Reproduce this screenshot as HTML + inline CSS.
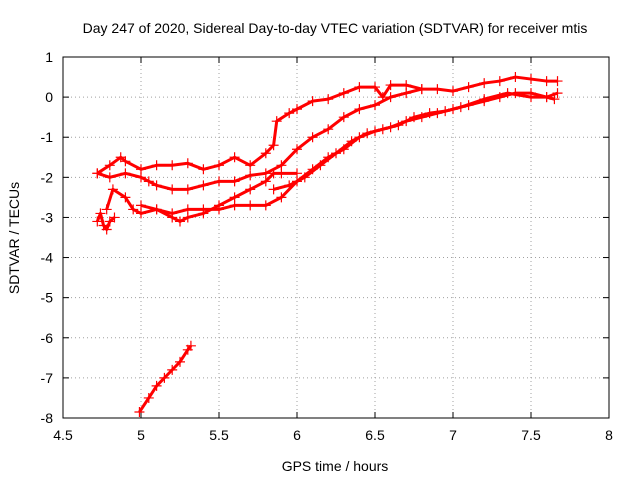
<!DOCTYPE html>
<html><head><meta charset="utf-8"><style>
body{margin:0;background:#fff;}
svg{display:block;font-family:"Liberation Sans",sans-serif;}
</style></head><body>
<svg id="chart" width="640" height="480" viewBox="0 0 640 480">
<rect width="640" height="480" fill="#fff"/>
<text x="335" y="33" font-size="14" text-anchor="middle">Day 247 of 2020, Sidereal Day-to-day VTEC variation (SDTVAR) for receiver mtis</text>
<g id="grid"></g>
<g id="axes"></g>
<g id="series"></g>
<text x="335" y="471" font-size="14" text-anchor="middle">GPS time / hours</text>
<text transform="translate(19,238) rotate(-90)" font-size="14" text-anchor="middle">SDTVAR / TECUs</text>
</svg>
<script>
const xTicks=[4.5,5,5.5,6,6.5,7,7.5,8];
const yTicks=[1,0,-1,-2,-3,-4,-5,-6,-7,-8];
const trackA=[[4.72,-1.9],[4.8,-1.7],[4.87,-1.5],[4.9,-1.6],[5.0,-1.8],[5.1,-1.7],[5.2,-1.7],[5.3,-1.65],[5.4,-1.8],[5.5,-1.7],[5.6,-1.5],[5.7,-1.7],[5.8,-1.4],[5.85,-1.2],[5.87,-0.6],[5.95,-0.4],[6.0,-0.3],[6.1,-0.1],[6.2,-0.05],[6.3,0.1],[6.4,0.25],[6.5,0.25],[6.55,0.0],[6.6,0.3],[6.7,0.3],[6.8,0.2],[6.9,0.2],[7.0,0.15],[7.1,0.25],[7.2,0.35],[7.3,0.4],[7.4,0.5],[7.5,0.45],[7.6,0.4],[7.67,0.4]];
const trackB=[[4.72,-1.9],[4.8,-2.0],[4.9,-1.9],[5.0,-2.0],[5.05,-2.1],[5.1,-2.2],[5.2,-2.3],[5.3,-2.3],[5.4,-2.2],[5.5,-2.1],[5.6,-2.1],[5.7,-1.95],[5.8,-1.9],[5.9,-1.7],[6.0,-1.3],[6.1,-1.0],[6.2,-0.8],[6.3,-0.5],[6.4,-0.3],[6.5,-0.2],[6.6,0.0],[6.7,0.1],[6.8,0.2]];
const trackC=[[4.78,-2.8],[4.82,-2.3],[4.9,-2.5],[4.95,-2.8],[5.0,-2.9],[5.1,-2.8],[5.2,-3.0],[5.25,-3.1],[5.3,-3.0],[5.4,-2.9],[5.5,-2.7],[5.6,-2.5],[5.7,-2.3],[5.8,-2.1],[5.85,-1.9],[5.9,-1.9],[6.0,-1.9]];
const trackD=[[4.72,-3.1],[4.74,-2.9],[4.76,-3.2],[4.78,-3.3],[4.8,-3.1],[4.83,-3.0]];
const trackE=[[5.0,-2.7],[5.1,-2.8],[5.2,-2.9],[5.3,-2.8],[5.4,-2.8],[5.5,-2.8],[5.6,-2.7],[5.7,-2.7],[5.8,-2.7],[5.9,-2.5],[6.0,-2.1],[6.1,-1.8],[6.2,-1.5],[6.3,-1.3],[6.4,-1.0],[6.5,-0.85],[6.6,-0.75],[6.7,-0.6],[6.8,-0.5],[6.9,-0.4],[7.0,-0.3],[7.1,-0.2],[7.2,-0.1],[7.3,0.0],[7.4,0.1],[7.5,0.1],[7.6,0.0],[7.67,0.1]];
const trackF=[[5.85,-2.3],[5.95,-2.2],[6.05,-2.0],[6.15,-1.7],[6.25,-1.4],[6.35,-1.1],[6.45,-0.9],[6.55,-0.8],[6.65,-0.7],[6.75,-0.5],[6.85,-0.4],[6.95,-0.35],[7.05,-0.25],[7.2,-0.05],[7.35,0.1],[7.5,0.0],[7.6,0.0],[7.65,-0.05]];
const trackG=[[4.99,-7.85],[5.05,-7.5],[5.1,-7.2],[5.15,-7.0],[5.2,-6.8],[5.25,-6.6],[5.3,-6.3],[5.32,-6.2]];
const tracks=[trackA,trackB,trackC,trackD,trackE,trackF,trackG];
const X0=63,X1=609,Y0=57,Y1=418;
const sx=v=>X0+(v-4.5)/3.5*(X1-X0);
const sy=v=>Y0+(1-v)/9*(Y1-Y0);
const NS='http://www.w3.org/2000/svg';
function mk(tag,attrs,parent){const e=document.createElementNS(NS,tag);for(const k in attrs)e.setAttribute(k,attrs[k]);parent.appendChild(e);return e;}
const grid=document.getElementById('grid'),axes=document.getElementById('axes'),ser=document.getElementById('series');
xTicks.forEach(t=>{const x=sx(t);
 if(t>4.5&&t<8){const g=mk('line',{x1:x,x2:x,y1:Y0,y2:Y1,stroke:'#a0a0a0','stroke-dasharray':'1,3'},grid);}
 mk('line',{x1:x,x2:x,y1:Y1,y2:Y1-6,stroke:'#000'},axes);mk('line',{x1:x,x2:x,y1:Y0,y2:Y0+6,stroke:'#000'},axes);
 const l=mk('text',{x:x,y:Y1+22,'font-size':14,'text-anchor':'middle'},axes);l.textContent=t;
 });
yTicks.forEach(t=>{const y=sy(t);
 if(t<1&&t>-8){const g=mk('line',{x1:X0,x2:X1,y1:y,y2:y,stroke:'#a0a0a0','stroke-dasharray':'1,3'},grid);}
 mk('line',{x1:X0,x2:X0+6,y1:y,y2:y,stroke:'#000'},axes);mk('line',{x1:X1,x2:X1-6,y1:y,y2:y,stroke:'#000'},axes);
 const l=mk('text',{x:X0-10,y:y+5,'font-size':14,'text-anchor':'end'},axes);l.textContent=t;
 });
const fr=mk('rect',{x:X0,y:Y0,width:X1-X0,height:Y1-Y0,fill:'none',stroke:'#000'},axes);

tracks.forEach((tr,i)=>{
 const pl=mk('polyline',{points:tr.map(p=>sx(p[0])+','+sy(p[1])).join(' '),fill:'none',stroke:'#ff0000','stroke-width':3,'stroke-linejoin':'round'},ser);
 
 
 tr.forEach(p=>{const x=sx(p[0]),y=sy(p[1]);
  const m=mk('path',{d:`M${x-5},${y}H${x+5}M${x},${y-5}V${y+5}`,stroke:'#ff0000','stroke-width':1.2},ser);
  
  });
});
</script>
</body></html>
